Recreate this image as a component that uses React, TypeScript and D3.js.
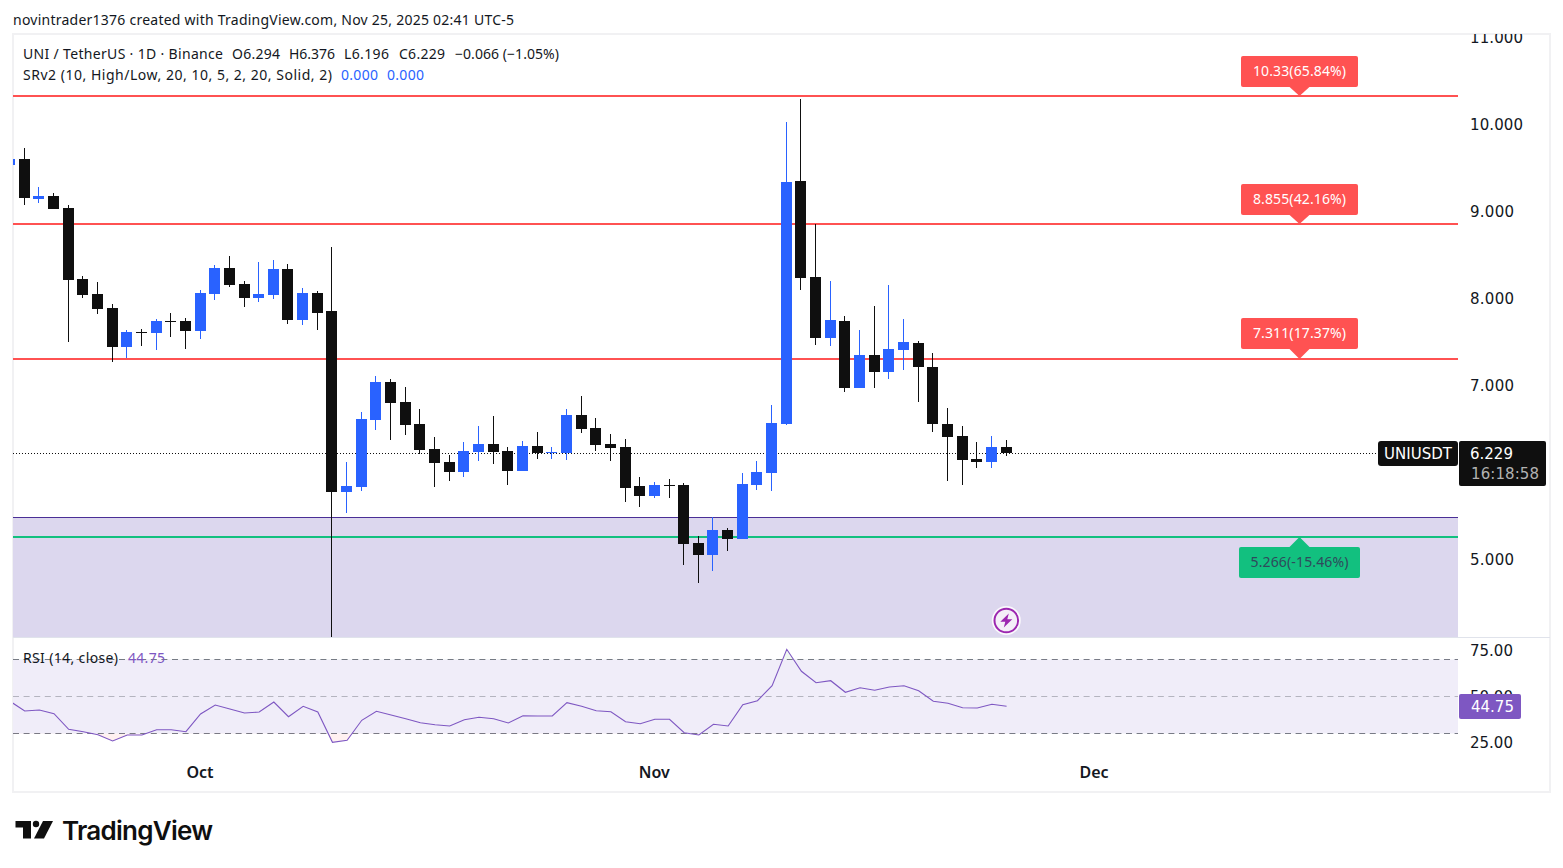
import React from "react";
import * as d3 from "d3";

// ---------- data ----------
const opens = [9.54,9.609,9.149,9.184,9.046,8.23,8.057,7.896,7.448,7.621,7.609,7.747,7.747,7.632,8.057,8.356,8.172,8.011,8.046,8.345,7.758,8.069,7.862,5.782,5.839,6.609,7.046,6.816,6.563,6.276,6.126,6.011,6.241,6.333,6.253,6.023,6.31,6.23,6.23,6.667,6.517,6.333,6.299,5.85,5.736,5.862,5.862,5.195,5.057,5.345,5.241,5.862,6.0,6.563,9.356,8.253,7.552,7.747,6.977,7.356,7.161,7.414,7.494,7.218,6.563,6.425,6.161,6.126,6.294];
const highs = [9.65,9.736,9.287,9.218,9.08,8.264,8.195,7.942,7.644,7.655,7.77,7.839,7.781,8.103,8.391,8.494,8.207,8.425,8.448,8.402,8.126,8.092,8.598,6.126,6.701,7.115,7.08,6.988,6.736,6.414,6.207,6.356,6.54,6.655,6.299,6.368,6.471,6.299,6.736,6.885,6.632,6.448,6.391,5.954,5.897,5.931,5.885,5.276,5.494,5.368,6.0,6.138,6.782,10.034,10.299,8.862,8.207,7.805,7.644,7.919,8.161,7.77,7.517,7.379,6.747,6.54,6.356,6.425,6.376];
const lows = [9.5,9.08,9.103,9.034,7.506,8.011,7.827,7.276,7.322,7.46,7.414,7.563,7.425,7.54,7.988,8.138,7.908,7.965,8.0,7.712,7.701,7.644,4.115,5.54,5.793,6.494,6.379,6.437,6.218,5.839,5.908,5.954,6.138,6.103,5.862,6.023,6.161,6.161,6.149,6.46,6.253,6.138,5.667,5.609,5.713,5.713,4.942,4.736,4.873,5.103,5.241,5.805,5.793,6.552,8.103,7.471,7.46,6.931,6.977,6.977,7.08,7.184,6.816,6.471,5.908,5.862,6.057,6.057,6.196];
const closes = [9.609,9.153,9.184,9.034,8.218,8.046,7.885,7.448,7.621,7.612,7.747,7.739,7.632,8.069,8.356,8.161,8.011,8.057,8.345,7.758,8.069,7.839,5.782,5.85,6.621,7.046,6.805,6.552,6.264,6.115,6.011,6.253,6.333,6.241,6.023,6.31,6.23,6.241,6.667,6.506,6.322,6.287,5.828,5.736,5.862,5.85,5.184,5.057,5.345,5.241,5.873,6.011,6.575,9.345,8.241,7.552,7.759,6.977,7.356,7.161,7.425,7.506,7.218,6.563,6.414,6.149,6.126,6.294,6.229];
const rsi = [47.4,42.16,42.7,40.7,32.27,30.97,29.35,25.95,29.19,29.19,32.05,32.05,30.97,40.54,45.41,43.24,41.08,41.62,47.03,39.08,44.7,41.62,25.24,26.32,37.14,42,40,38,35.84,34.76,34.05,37.46,38.76,38,35.68,39.62,39.46,39.46,46.65,44.7,42.32,41.78,36.38,35.3,37.68,37.68,30.43,29.19,34.97,34.05,45.57,47.73,55.84,75.51,63.62,57.46,58.54,52.27,54.76,53.35,55.14,55.84,53.14,47.41,46.32,43.95,43.78,45.78,44.75];

const priceTicks = [11, 10, 9, 8, 7, 5];
const rsiTicks = [75, 50, 25];
const rsiBands = [70, 50, 30];
const monthLabels = ["Oct", "Nov", "Dec"];
const monthIndex = [13, 44, 74];
const resistanceLevels = [10.33, 8.855, 7.311];
const resistanceLabels = ["10.33(65.84%)", "8.855(42.16%)", "7.311(17.37%)"];
const supportLevels = [5.266];
const supportLabels = ["5.266(-15.46%)"];
const zoneTop = 5.491;
const lastPrice = 6.229;
const lastRsi = 44.75;

// ---------- layout ----------
const W = 1563, H = 868;
const L = 13, PR = 1458, AR = 1550, TOP = 35, MB = 637, BOT = 792;
const UI = "'Noto Sans', sans-serif";
const AX = "'DejaVu Sans', sans-serif";
const BLUE = "#2962ff", BLACK = "#0f0f0f", RED = "#ff5252", GREEN = "#12c07f", VIOLET = "#7e57c2", INK = "#131722";

const xs = d3.scaleLinear().domain([0, 74]).range([9.55, 1094.02]);
const ys = d3.scaleLinear().domain([11, 5]).range([37.7, 559.7]);
const yr = d3.scaleLinear().domain([50, 75]).range([696.5, 650.25]);
const px = (i: number) => Math.floor(xs(i));
const cy = (v: number) => Math.round(ys(v));

const T = (p: any) => {
  const { f = UI, s = 14, c = INK, w, len, ...r } = p;
  return (
    <text fontFamily={f} fontSize={s} fill={c} fontWeight={w} dominantBaseline="central"
      textLength={len} lengthAdjust={len ? "spacing" : undefined} {...r} />
  );
};

export default function App() {
  const line = d3.line<number>().x((_, i) => xs(i) + 0.5).y((d) => yr(d));
  const areaLow = d3.area<number>().x((_, i) => xs(i) + 0.5).y0(yr(30)).y1((d) => yr(d));
  const areaHigh = d3.area<number>().x((_, i) => xs(i) + 0.5).y0(yr(70)).y1((d) => yr(d));
  const zy = cy(zoneTop);
  return (
    <svg width={W} height={H} viewBox={`0 0 ${W} ${H}`}
      style={{ position: "absolute", left: 0, top: 0, display: "block", background: "#fff" }}>
      <defs>
        <clipPath id="main"><rect x={L} y={TOP} width={PR - L} height={MB - TOP} /></clipPath>
        <clipPath id="rsi"><rect x={L} y={MB + 1} width={PR - L} height={BOT - MB - 32} /></clipPath>
        <clipPath id="rlow"><rect x={L} y={yr(30)} width={PR - L} height={30} /></clipPath>
        <clipPath id="rhigh"><rect x={L} y={MB + 1} width={PR - L} height={yr(70) - MB - 1} /></clipPath>
        <clipPath id="axis"><rect x={PR} y={TOP - 1} width={AR - PR} height={MB - TOP + 1} /></clipPath>
      </defs>

      <T x={13} y={19} s={14} len={501}>novintrader1376 created with TradingView.com, Nov 25, 2025 02:41 UTC-5</T>

      {/* frame */}
      <rect x={13} y={34} width={1537} height={758} fill="#fff" stroke="#f1f1f3" strokeWidth={2} />

      {/* zone */}
      <g clipPath="url(#main)">
        <rect x={L} y={zy} width={PR - L} height={MB - zy} fill="#dcd7ee" />
        <rect x={L} y={zy} width={PR - L} height={1} fill="#4a2f96" />
        {/* last price dotted */}
        <line x1={L} x2={1377} y1={cy(lastPrice) + 0.5} y2={cy(lastPrice) + 0.5} stroke={BLACK} strokeWidth={1} strokeDasharray="1 2" />
        {/* levels */}
        {resistanceLevels.map((v) => (
          <rect key={v} x={L} y={cy(v) - 1} width={PR - L} height={2} fill={RED} />
        ))}
        {supportLevels.map((v) => (
          <rect key={v} x={L} y={cy(v) - 1} width={PR - L} height={2} fill={GREEN} />
        ))}
        {/* candles */}
        {opens.map((o, i) => {
          const c = closes[i];
          const col = c >= o ? BLUE : BLACK;
          const t = cy(Math.max(o, c));
          const b = cy(Math.min(o, c));
          return (
            <g key={i} fill={col}>
              <rect x={px(i)} y={cy(highs[i])} width={1} height={cy(lows[i]) - cy(highs[i])} />
              <rect x={px(i) - 5} y={t} width={11} height={Math.max(1, b - t)} />
            </g>
          );
        })}
      </g>

      {/* level labels */}
      {resistanceLevels.map((v, i) => {
        const y = cy(v);
        const top = Math.round(ys(v) - 40.3);
        return (
          <g key={v}>
            <rect x={1241} y={top} width={117} height={31} rx={2} fill={RED} />
            <path d={`M1289 ${top + 30.5} L1299.5 ${y} L1310 ${top + 30.5} Z`} fill={RED} />
            <T x={1299.5} y={top + 14.5} s={14} c="#fff" textAnchor="middle" len={93}>{resistanceLabels[i]}</T>
          </g>
        );
      })}
      {supportLevels.map((v, i) => {
        const y = cy(v);
        return (
          <g key={v}>
            <rect x={1239} y={y + 10} width={121} height={31} rx={2} fill={GREEN} />
            <path d={`M1289 ${y + 10.5} L1299.5 ${y} L1310 ${y + 10.5} Z`} fill={GREEN} />
            <T x={1299.5} y={y + 24.5} s={14} c="#2f4a5c" textAnchor="middle" len={98}>{supportLabels[i]}</T>
          </g>
        );
      })}

      {/* lightning */}
      <g transform="translate(1006.3 620.5)">
        <circle r={14.5} fill="#fff" opacity={0.85} />
        <circle r={11.8} fill="#f4eff8" stroke="#9c27b0" strokeWidth={2} />
        <path d="M2.5 -7 L-6 1.2 L-1 1.2 L-2.5 7 L6 -1.2 L1 -1.2 Z" fill="#9c27b0" />
      </g>

      {/* legend */}
      <T x={23} y={53.5} len={200}>UNI / TetherUS · 1D · Binance</T>
      <T x={232} y={53.5} len={48}>O6.294</T>
      <T x={289} y={53.5} len={46}>H6.376</T>
      <T x={344} y={53.5} len={45}>L6.196</T>
      <T x={399} y={53.5} len={46}>C6.229</T>
      <T x={455} y={53.5} len={104}>−0.066 (−1.05%)</T>
      <T x={23} y={74.5} len={309}>SRv2 (10, High/Low, 20, 10, 5, 2, 20, Solid, 2)</T>
      <T x={341} y={74.5} c={BLUE} len={37}>0.000</T>
      <T x={387} y={74.5} c={BLUE} len={37}>0.000</T>

      {/* price axis */}
      <g clipPath="url(#axis)">
        {priceTicks.map((t) => (
          <T key={t} f={AX} s={15} x={1470} y={ys(t) + 0.3} len={t >= 10 ? 53 : 44}>{t.toFixed(3)}</T>
        ))}
      </g>
      <rect x={1378} y={441} width={80} height={25} rx={3} fill={BLACK} />
      <rect x={1459} y={441} width={87} height={45} rx={2} fill={BLACK} />
      <T f={AX} s={15} x={1384} y={453.5} c="#fff" len={68}>UNIUSDT</T>
      <T f={AX} s={15} x={1470} y={453.5} c="#fff">{lastPrice.toFixed(3)}</T>
      <T f={AX} s={15} x={1471} y={474} c="#b2b2b2" len={68}>16:18:58</T>

      {/* pane separator */}
      <rect x={L} y={MB} width={AR - L} height={1} fill="#e0e3eb" />

      {/* RSI */}
      <g clipPath="url(#rsi)">
        <rect x={L} y={yr(70)} width={PR - L} height={yr(30) - yr(70)} fill="#f0edf9" />
        {rsiBands.map((b) => (
          <line key={b} x1={L} x2={PR} y1={Math.floor(yr(b)) + 0.5} y2={Math.floor(yr(b)) + 0.5}
            stroke="#787b86" strokeOpacity={b === 50 ? 0.5 : 1} strokeWidth={1} strokeDasharray="6 4.6" />
        ))}
        <path d={areaLow(rsi) || ""} fill="#ff5252" fillOpacity={0.08} clipPath="url(#rlow)" />
        <path d={areaHigh(rsi) || ""} fill="#4caf50" fillOpacity={0.08} clipPath="url(#rhigh)" />
        <path d={line(rsi) || ""} fill="none" stroke={VIOLET} strokeWidth={1.1} />
      </g>
      <T x={23} y={657.5} len={95}>RSI (14, close)</T>
      <T x={128} y={657.5} c={VIOLET} len={37}>{lastRsi.toFixed(2)}</T>

      {rsiTicks.map((t) => (
        <T key={t} f={AX} s={15} x={1470} y={yr(t) + 0.3}>{t.toFixed(2)}</T>
      ))}
      <rect x={1459} y={694} width={62} height={25} rx={2} fill={VIOLET} />
      <T f={AX} s={15} x={1471} y={707} c="#fff">{lastRsi.toFixed(2)}</T>

      {/* time axis */}
      {monthLabels.map((m, i) => (
        <T key={m} x={xs(monthIndex[i])} y={772} s={16} w={600} textAnchor="middle">{m}</T>
      ))}

      {/* logo */}
      <g fill={BLACK}>
        <path d="M15.5 821 H31 V838.5 H23 V827.5 H15.5 Z" />
        <circle cx={36} cy={824} r={3.2} />
        <path d="M43 821 H53 L44 838.5 H34 Z" />
      </g>
      <T f="Inter, sans-serif" s={26} w={600} x={62} y={830.5} c={BLACK} len={151}>TradingView</T>
    </svg>
  );
}
